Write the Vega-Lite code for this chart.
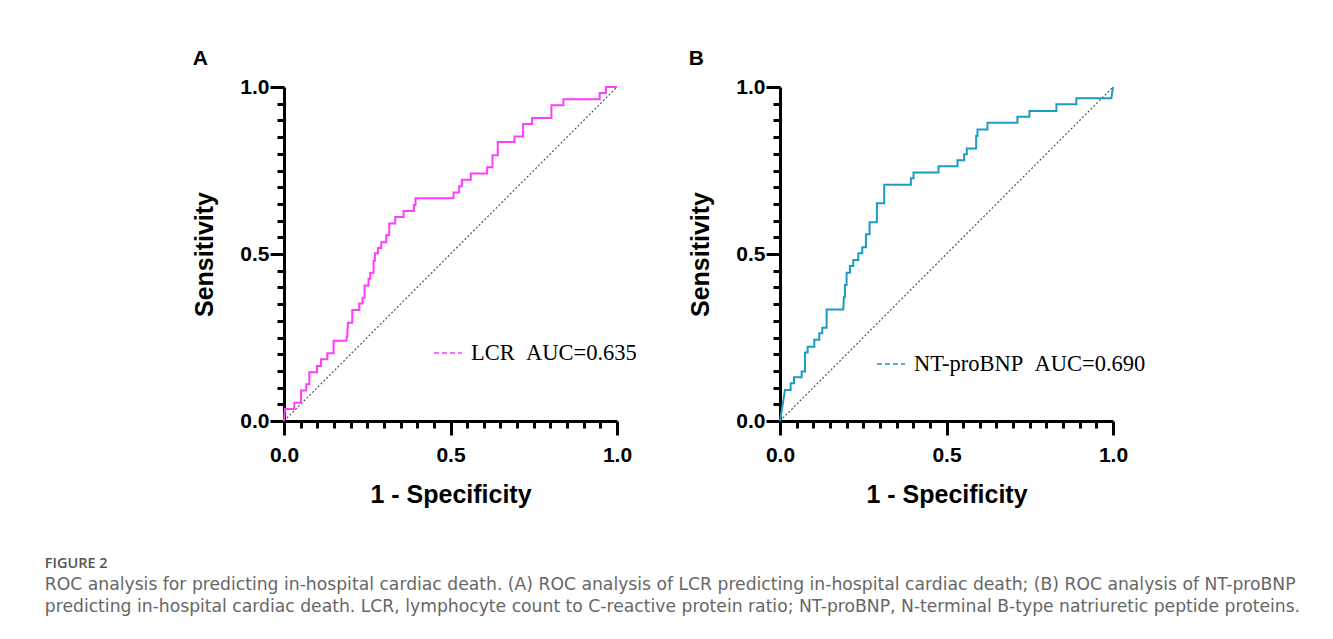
{
  "$schema": "https://vega.github.io/schema/vega-lite/v6.json",
  "background": "white",
  "padding": {"left": 44, "top": 48, "right": 10, "bottom": 10},
  "datasets": {
    "diag": [{"fpr": 0, "tpr": 0}, {"fpr": 1, "tpr": 1}],
    "lcr": [
      {"fpr": 0, "tpr": 0}, {"fpr": 0.003, "tpr": 0.036}, {"fpr": 0.031, "tpr": 0.036}, {"fpr": 0.031, "tpr": 0.055},
      {"fpr": 0.051, "tpr": 0.055}, {"fpr": 0.051, "tpr": 0.091}, {"fpr": 0.067, "tpr": 0.091}, {"fpr": 0.067, "tpr": 0.110},
      {"fpr": 0.076, "tpr": 0.110}, {"fpr": 0.076, "tpr": 0.146}, {"fpr": 0.099, "tpr": 0.146}, {"fpr": 0.099, "tpr": 0.165},
      {"fpr": 0.111, "tpr": 0.165}, {"fpr": 0.111, "tpr": 0.185}, {"fpr": 0.130, "tpr": 0.185}, {"fpr": 0.130, "tpr": 0.203},
      {"fpr": 0.149, "tpr": 0.203}, {"fpr": 0.149, "tpr": 0.240}, {"fpr": 0.187, "tpr": 0.240}, {"fpr": 0.190, "tpr": 0.257},
      {"fpr": 0.192, "tpr": 0.294}, {"fpr": 0.205, "tpr": 0.294}, {"fpr": 0.205, "tpr": 0.332}, {"fpr": 0.226, "tpr": 0.332},
      {"fpr": 0.226, "tpr": 0.352}, {"fpr": 0.236, "tpr": 0.352}, {"fpr": 0.236, "tpr": 0.369}, {"fpr": 0.242, "tpr": 0.369},
      {"fpr": 0.242, "tpr": 0.406}, {"fpr": 0.254, "tpr": 0.406}, {"fpr": 0.254, "tpr": 0.426}, {"fpr": 0.259, "tpr": 0.426},
      {"fpr": 0.259, "tpr": 0.444}, {"fpr": 0.269, "tpr": 0.444}, {"fpr": 0.269, "tpr": 0.480}, {"fpr": 0.273, "tpr": 0.480},
      {"fpr": 0.273, "tpr": 0.502}, {"fpr": 0.282, "tpr": 0.502}, {"fpr": 0.282, "tpr": 0.518}, {"fpr": 0.292, "tpr": 0.518},
      {"fpr": 0.292, "tpr": 0.535}, {"fpr": 0.307, "tpr": 0.535}, {"fpr": 0.307, "tpr": 0.556}, {"fpr": 0.316, "tpr": 0.556},
      {"fpr": 0.316, "tpr": 0.591}, {"fpr": 0.334, "tpr": 0.591}, {"fpr": 0.334, "tpr": 0.611}, {"fpr": 0.359, "tpr": 0.611},
      {"fpr": 0.359, "tpr": 0.629}, {"fpr": 0.390, "tpr": 0.629}, {"fpr": 0.390, "tpr": 0.647}, {"fpr": 0.395, "tpr": 0.647},
      {"fpr": 0.395, "tpr": 0.667}, {"fpr": 0.509, "tpr": 0.667}, {"fpr": 0.509, "tpr": 0.684}, {"fpr": 0.526, "tpr": 0.684},
      {"fpr": 0.526, "tpr": 0.703}, {"fpr": 0.534, "tpr": 0.703}, {"fpr": 0.534, "tpr": 0.722}, {"fpr": 0.561, "tpr": 0.722},
      {"fpr": 0.561, "tpr": 0.741}, {"fpr": 0.610, "tpr": 0.741}, {"fpr": 0.610, "tpr": 0.760}, {"fpr": 0.626, "tpr": 0.760},
      {"fpr": 0.626, "tpr": 0.796}, {"fpr": 0.642, "tpr": 0.796}, {"fpr": 0.642, "tpr": 0.835}, {"fpr": 0.692, "tpr": 0.835},
      {"fpr": 0.692, "tpr": 0.852}, {"fpr": 0.718, "tpr": 0.852}, {"fpr": 0.718, "tpr": 0.889}, {"fpr": 0.745, "tpr": 0.889},
      {"fpr": 0.745, "tpr": 0.907}, {"fpr": 0.803, "tpr": 0.907}, {"fpr": 0.803, "tpr": 0.945}, {"fpr": 0.839, "tpr": 0.945},
      {"fpr": 0.839, "tpr": 0.963}, {"fpr": 0.948, "tpr": 0.963}, {"fpr": 0.948, "tpr": 0.982}, {"fpr": 0.967, "tpr": 0.982},
      {"fpr": 0.967, "tpr": 1.0}, {"fpr": 1.0, "tpr": 1.0}
    ],
    "ntprobnp": [
      {"fpr": 0, "tpr": 0}, {"fpr": 0.015, "tpr": 0.093}, {"fpr": 0.032, "tpr": 0.093}, {"fpr": 0.032, "tpr": 0.113},
      {"fpr": 0.042, "tpr": 0.113}, {"fpr": 0.042, "tpr": 0.131}, {"fpr": 0.065, "tpr": 0.131}, {"fpr": 0.065, "tpr": 0.148},
      {"fpr": 0.075, "tpr": 0.148}, {"fpr": 0.075, "tpr": 0.205}, {"fpr": 0.083, "tpr": 0.205}, {"fpr": 0.083, "tpr": 0.222},
      {"fpr": 0.103, "tpr": 0.222}, {"fpr": 0.103, "tpr": 0.243}, {"fpr": 0.118, "tpr": 0.243}, {"fpr": 0.118, "tpr": 0.263},
      {"fpr": 0.127, "tpr": 0.263}, {"fpr": 0.127, "tpr": 0.279}, {"fpr": 0.140, "tpr": 0.279}, {"fpr": 0.140, "tpr": 0.334},
      {"fpr": 0.190, "tpr": 0.334}, {"fpr": 0.192, "tpr": 0.372}, {"fpr": 0.195, "tpr": 0.372}, {"fpr": 0.195, "tpr": 0.407},
      {"fpr": 0.200, "tpr": 0.407}, {"fpr": 0.200, "tpr": 0.444}, {"fpr": 0.210, "tpr": 0.444}, {"fpr": 0.210, "tpr": 0.464},
      {"fpr": 0.220, "tpr": 0.464}, {"fpr": 0.220, "tpr": 0.482}, {"fpr": 0.235, "tpr": 0.482}, {"fpr": 0.235, "tpr": 0.502},
      {"fpr": 0.247, "tpr": 0.502}, {"fpr": 0.247, "tpr": 0.520}, {"fpr": 0.258, "tpr": 0.520}, {"fpr": 0.258, "tpr": 0.559},
      {"fpr": 0.269, "tpr": 0.559}, {"fpr": 0.269, "tpr": 0.595}, {"fpr": 0.291, "tpr": 0.595}, {"fpr": 0.291, "tpr": 0.652},
      {"fpr": 0.313, "tpr": 0.652}, {"fpr": 0.313, "tpr": 0.707}, {"fpr": 0.393, "tpr": 0.707}, {"fpr": 0.393, "tpr": 0.727},
      {"fpr": 0.401, "tpr": 0.727}, {"fpr": 0.401, "tpr": 0.744}, {"fpr": 0.476, "tpr": 0.744}, {"fpr": 0.476, "tpr": 0.763},
      {"fpr": 0.533, "tpr": 0.763}, {"fpr": 0.533, "tpr": 0.781}, {"fpr": 0.553, "tpr": 0.781}, {"fpr": 0.553, "tpr": 0.799},
      {"fpr": 0.561, "tpr": 0.799}, {"fpr": 0.561, "tpr": 0.816}, {"fpr": 0.589, "tpr": 0.816}, {"fpr": 0.589, "tpr": 0.853},
      {"fpr": 0.593, "tpr": 0.853}, {"fpr": 0.593, "tpr": 0.873}, {"fpr": 0.623, "tpr": 0.873}, {"fpr": 0.623, "tpr": 0.893},
      {"fpr": 0.713, "tpr": 0.893}, {"fpr": 0.713, "tpr": 0.911}, {"fpr": 0.749, "tpr": 0.911}, {"fpr": 0.749, "tpr": 0.928},
      {"fpr": 0.830, "tpr": 0.928}, {"fpr": 0.830, "tpr": 0.948}, {"fpr": 0.890, "tpr": 0.948}, {"fpr": 0.890, "tpr": 0.966},
      {"fpr": 0.995, "tpr": 0.966}, {"fpr": 1.0, "tpr": 1.0}
    ]
  },
  "title": {
    "text": "FIGURE 2",
    "subtitle": [
      "ROC analysis for predicting in-hospital cardiac death. (A) ROC analysis of LCR predicting in-hospital cardiac death; (B) ROC analysis of NT-proBNP",
      "predicting in-hospital cardiac death. LCR, lymphocyte count to C-reactive protein ratio; NT-proBNP, N-terminal B-type natriuretic peptide proteins."
    ],
    "orient": "bottom",
    "anchor": "start",
    "frame": "bounds",
    "dx": -148,
    "offset": 50,
    "baseline": "top",
    "font": "Open Sans",
    "fontSize": 14.5,
    "fontWeight": 600,
    "color": "#555555",
    "subtitleFont": "DejaVu Sans",
    "subtitleFontSize": 17.2,
    "subtitleColor": "#666666",
    "subtitleLineHeight": 22,
    "subtitlePadding": 4
  },
  "spacing": 163,
  "bounds": "flush",
  "resolve": {"scale": {"color": "independent", "x": "independent", "y": "independent"}, "legend": {"color": "independent"}},
  "hconcat": [
    {
      "width": 333,
      "height": 334,
      "title": {"text": "A", "anchor": "start", "frame": "bounds", "font": "Liberation Sans", "fontSize": 21, "fontWeight": "bold", "color": "black", "baseline": "alphabetic", "offset": -10},
      "encoding": {
        "x": {"field": "fpr", "type": "quantitative", "scale": {"domain": [0, 1], "nice": false},
          "axis": {"title": "1 - Specificity",
            "values": [0, 0.05, 0.1, 0.15, 0.2, 0.25, 0.3, 0.35, 0.4, 0.45, 0.5, 0.55, 0.6, 0.65, 0.7, 0.75, 0.8, 0.85, 0.9, 0.95, 1],
            "labelExpr": "datum.value === 0 || datum.value === 0.5 || datum.value === 1 ? format(datum.value, '.1f') : ''",
            "tickSize": {"condition": {"test": "datum.value === 0 || datum.value === 0.5 || datum.value === 1", "value": 14}, "value": 7},
            "labelPadding": 9, "titlePadding": 17}},
        "y": {"field": "tpr", "type": "quantitative", "scale": {"domain": [0, 1], "nice": false},
          "axis": {"title": "Sensitivity",
            "values": [0, 0.05, 0.1, 0.15, 0.2, 0.25, 0.3, 0.35, 0.4, 0.45, 0.5, 0.55, 0.6, 0.65, 0.7, 0.75, 0.8, 0.85, 0.9, 0.95, 1],
            "labelExpr": "datum.value === 0 || datum.value === 0.5 || datum.value === 1 ? format(datum.value, '.1f') : ''",
            "tickSize": {"condition": {"test": "datum.value === 0 || datum.value === 0.5 || datum.value === 1", "value": 14}, "value": 7},
            "labelPadding": 1, "titlePadding": 22}}
      },
      "layer": [
        {
          "data": {"name": "diag"},
          "mark": {"type": "line", "color": "#555555", "strokeDash": [2, 2], "strokeWidth": 1.2}
        },
        {
          "data": {"name": "lcr"},
          "mark": {"type": "line", "strokeWidth": 2},
          "encoding": {
            "order": [{"field": "fpr", "type": "quantitative"}, {"field": "tpr", "type": "quantitative"}],
            "color": {"datum": "LCR\u00a0\u00a0AUC=0.635", "type": "nominal", "scale": {"range": ["#ff3dff"]},
              "legend": {"title": null, "orient": "none", "legendX": 149, "legendY": 251, "padding": 0,
                "symbolType": "stroke", "symbolSize": 784, "symbolStrokeWidth": 1.5, "symbolDash": [5, 3],
                "labelFont": "Liberation Serif", "labelFontSize": 22.5, "labelColor": "black", "labelOffset": 8, "labelLimit": 400,
                "encode": {"symbols": {"update": {"stroke": {"value": "#ff2a80"}}}}}}
          }
        }
      ]
    },
    {
      "width": 333,
      "height": 334,
      "title": {"text": "B", "anchor": "start", "frame": "bounds", "font": "Liberation Sans", "fontSize": 21, "fontWeight": "bold", "color": "black", "baseline": "alphabetic", "offset": -10},
      "encoding": {
        "x": {"field": "fpr", "type": "quantitative", "scale": {"domain": [0, 1], "nice": false},
          "axis": {"title": "1 - Specificity",
            "values": [0, 0.05, 0.1, 0.15, 0.2, 0.25, 0.3, 0.35, 0.4, 0.45, 0.5, 0.55, 0.6, 0.65, 0.7, 0.75, 0.8, 0.85, 0.9, 0.95, 1],
            "labelExpr": "datum.value === 0 || datum.value === 0.5 || datum.value === 1 ? format(datum.value, '.1f') : ''",
            "tickSize": {"condition": {"test": "datum.value === 0 || datum.value === 0.5 || datum.value === 1", "value": 14}, "value": 7},
            "labelPadding": 9, "titlePadding": 17}},
        "y": {"field": "tpr", "type": "quantitative", "scale": {"domain": [0, 1], "nice": false},
          "axis": {"title": "Sensitivity",
            "values": [0, 0.05, 0.1, 0.15, 0.2, 0.25, 0.3, 0.35, 0.4, 0.45, 0.5, 0.55, 0.6, 0.65, 0.7, 0.75, 0.8, 0.85, 0.9, 0.95, 1],
            "labelExpr": "datum.value === 0 || datum.value === 0.5 || datum.value === 1 ? format(datum.value, '.1f') : ''",
            "tickSize": {"condition": {"test": "datum.value === 0 || datum.value === 0.5 || datum.value === 1", "value": 14}, "value": 7},
            "labelPadding": 1, "titlePadding": 22}}
      },
      "layer": [
        {
          "data": {"name": "diag"},
          "mark": {"type": "line", "color": "#555555", "strokeDash": [2, 2], "strokeWidth": 1.2}
        },
        {
          "data": {"name": "ntprobnp"},
          "mark": {"type": "line", "strokeWidth": 2},
          "encoding": {
            "order": [{"field": "fpr", "type": "quantitative"}, {"field": "tpr", "type": "quantitative"}],
            "color": {"datum": "NT-proBNP\u00a0\u00a0AUC=0.690", "type": "nominal", "scale": {"range": ["#1b9cc0"]},
              "legend": {"title": null, "orient": "none", "legendX": 96, "legendY": 262, "padding": 0,
                "symbolType": "stroke", "symbolSize": 784, "symbolStrokeWidth": 1.5, "symbolDash": [5, 3],
                "labelFont": "Liberation Serif", "labelFontSize": 22.5, "labelColor": "black", "labelOffset": 8, "labelLimit": 400,
                "encode": {"symbols": {"update": {"stroke": {"value": "#35a9cc"}}}}}}
          }
        }
      ]
    }
  ],
  "config": {
    "view": {"stroke": null},
    "axis": {
      "grid": false,
      "domainColor": "black",
      "domainWidth": 3,
      "tickColor": "black",
      "tickWidth": 3,
      "labelFont": "Liberation Sans",
      "labelFontSize": 21,
      "labelFontWeight": "bold",
      "labelColor": "black",
      "labelFlush": false,
      "labelOverlap": false,
      "titleFont": "Liberation Sans",
      "titleFontSize": 25,
      "titleFontWeight": "bold",
      "titleColor": "black"
    }
  }
}
